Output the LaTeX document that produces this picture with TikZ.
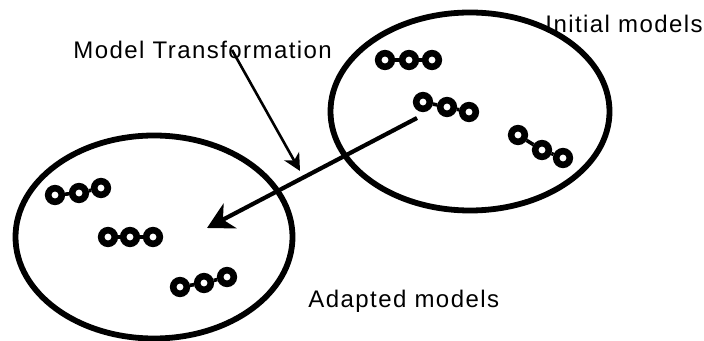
\documentclass[tikz,border=0pt]{standalone}
\usepackage{fontspec}
\setmainfont{Liberation Sans}
\newfontfamily\lblfont[LetterSpace=6]{Liberation Sans}
\usetikzlibrary{arrows.meta,shapes.geometric}

\tikzset{
	modelset/.style={draw, ellipse, line width=2.9pt, inner sep=0pt},
	ring/.style={draw, circle, fill=white, line width=3.3pt, inner sep=0pt, minimum size=6.8pt},
	link/.style={line width=1.8pt},
	lbl/.style={inner sep=0pt, anchor=base west, font=\lblfont\fontsize{12}{14}\selectfont},
	transarrow/.style={line width=2.1pt, -{Stealth[length=13pt,width=14pt,inset=4pt]}},
	hintarrow/.style={line width=1.3pt, -{Stealth[length=8.5pt,width=8.5pt,inset=2.5pt]}}
}

\begin{document}
\begin{tikzpicture}[x=0.5pt, y=-0.5pt]
	\useasboundingbox (0,0) rectangle (704,341);

	% the two sets of models
	\node[modelset, minimum width=138.5pt, minimum height=101.5pt] (adapted) at (154,237) {};
	\node[modelset, minimum width=139.5pt, minimum height=99pt] (initial) at (470,111.5) {};

	% chains of three rings
	\foreach \n/\ax/\ay/\bx/\by/\cx/\cy in {
		la/55/195/79/193/101/188,
		lb/108/237/130/237/153/237,
		lc/180/287/204/283/227/277,
		ra/385/60/409/60/432/60,
		rb/423/102/447/107/469/112,
		rc/518/135/542/150/563/158}
	{
		\node[ring] (\n-1) at (\ax,\ay) {};
		\node[ring] (\n-2) at (\bx,\by) {};
		\node[ring] (\n-3) at (\cx,\cy) {};
		\draw[link] (\n-1) -- (\n-2) (\n-2) -- (\n-3);
	}

	% labels
	\node[lbl] (trlabel) at (73,59) {Model Transformation};
	\node[lbl] (initlabel) at (545,33) {Initial models};
	\node[lbl] (adaptlabel) at (308,307) {Adapted models};

	% transformation arrow
	\coordinate (src) at (417,118);
	\coordinate (dst) at (207,228);
	\draw[transarrow] (src) -- (dst);

	\coordinate (hintstart) at (232,50);
	\coordinate (hintend) at (300,171);
	\draw[hintarrow] (hintstart) -- (hintend);
\end{tikzpicture}
\end{document}
